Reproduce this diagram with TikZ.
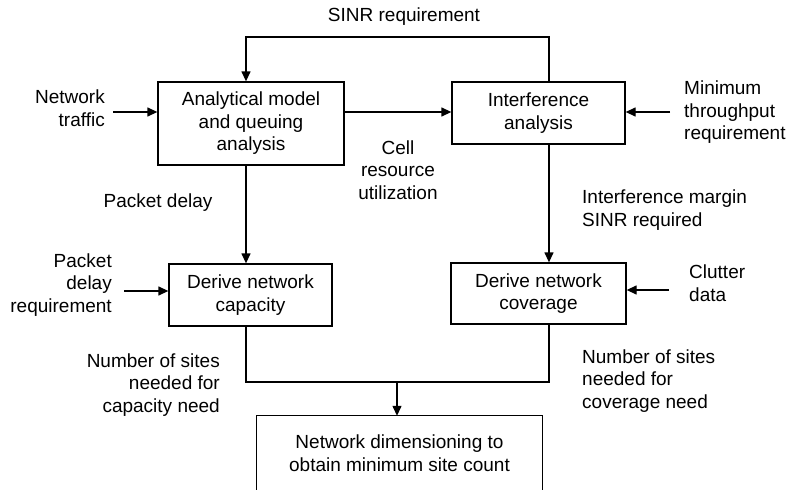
\documentclass[tikz,border=0pt]{standalone}
\usepackage{fontspec}
\setmainfont{Liberation Sans}
\usetikzlibrary{arrows.meta}
\newcommand{\dgfont}{\fontsize{19}{22.5}\selectfont}
\tikzset{
  box/.style={draw, line width=1.3pt, inner sep=0pt, align=center, font=\dgfont},
  lbl/.style={inner sep=0pt, font=\dgfont},
  conn/.style={line width=1.3pt},
  arr/.style={line width=1.3pt, -{Triangle[length=10pt,width=9pt]}}
}
\begin{document}
\begin{tikzpicture}[x=1pt,y=-1pt]
\useasboundingbox (0,0) rectangle (788,490);
% boxes
\node[box, minimum width=186pt, minimum height=83pt] (ana) at (251,123.5) {Analytical model\\and queuing\\analysis};
\node[box, minimum width=173pt, minimum height=62pt] (inter) at (538.5,113) {Interference\\analysis};
\node[box, minimum width=163pt, minimum height=62pt] (cap) at (250.5,295) {Derive network\\capacity};
\node[box, minimum width=175pt, minimum height=61pt] (cov) at (538.5,293.5) {Derive network\\coverage};
\node[lbl, align=center, minimum width=285pt, minimum height=74pt] (dim) at (399.5,453) {Network dimensioning to\\obtain minimum site count};
\draw[conn] (dim.south west) -- (dim.north west) -- (dim.north east) -- (dim.south east);
% labels
\node[lbl] (sinr) at (404,17) {SINR requirement};
\node[lbl, align=right, anchor=east] (nt) at (105,108) {Network\\traffic};
\node[lbl, align=left, anchor=west] (mt) at (684,112.5) {Minimum\\throughput\\requirement};
\node[lbl, align=center] (cru) at (398,170) {Cell\\resource\\utilization};
\node[lbl] (pd) at (158,203) {Packet delay};
\node[lbl, align=left, anchor=west] (im) at (582,210) {Interference margin\\SINR required};
\node[lbl, align=right, anchor=east] (pdr) at (112,285) {Packet\\delay\\requirement};
\node[lbl, align=left, anchor=west] (cd) at (689,283) {Clutter\\data};
\node[lbl, align=right, anchor=east] (nscap) at (220,385) {Number of sites\\needed for\\capacity need};
\node[lbl, align=left, anchor=west] (nscov) at (582,381) {Number of sites\\needed for\\coverage need};
% helper coordinates
\coordinate (cL) at (246,0);
\coordinate (cR) at (549,0);
\coordinate (fb) at (0,37);
\coordinate (r1) at (0,112);
\coordinate (ntS) at (113,112);
\coordinate (mtS) at (670,112);
\coordinate (pdS) at (124,291);
\coordinate (cdS) at (669,290);
\coordinate (m) at (397,382);
% connectors
\draw[arr] (inter.north -| cR) -- (cR |- fb) -- (cL |- fb) -- (ana.north -| cL);
\draw[arr] (ana.east |- r1) -- (inter.west |- r1);
\draw[arr] (ntS) -- (ana.west |- ntS);
\draw[arr] (mtS) -- (inter.east |- mtS);
\draw[arr] (pdS) -- (cap.west |- pdS);
\draw[arr] (cdS) -- (cov.east |- cdS);
\draw[arr] (ana.south -| cL) -- (cap.north -| cL);
\draw[arr] (inter.south -| cR) -- (cov.north -| cR);
\draw[conn] (cap.south -| cL) -- (cL |- m) -- (cR |- m) -- (cov.south -| cR);
\draw[arr] (m) -- (dim.north -| m);
\end{tikzpicture}
\end{document}
